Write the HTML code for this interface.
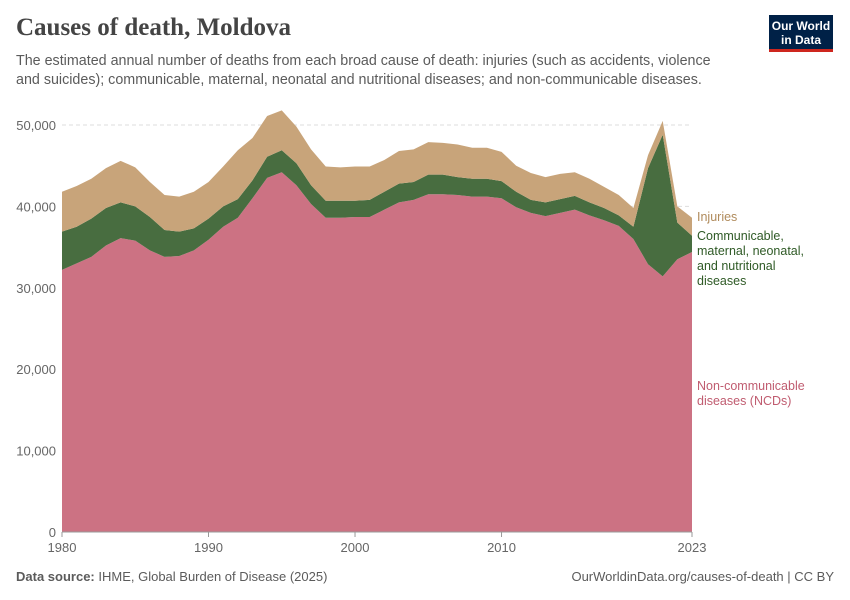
<!DOCTYPE html>
<html><head><meta charset="utf-8"><style>
body{margin:0;background:#fff;width:850px;height:600px;overflow:hidden;font-family:"Liberation Sans",sans-serif;position:relative}
.t{position:absolute}
</style></head><body>
<div class="t" style="left:16px;top:14px;font-family:'Liberation Serif',serif;font-size:25px;font-weight:bold;color:#444;">Causes of death, Moldova</div>
<div class="t" style="left:16px;top:52px;width:720px;font-size:14.3px;line-height:19px;color:#5b5b5b;">The estimated annual number of deaths from each broad cause of death: injuries (such as accidents, violence and suicides); communicable, maternal, neonatal and nutritional diseases; and non-communicable diseases.</div>
<div class="t" style="left:769px;top:15px;width:64px;height:37px;background:#002147;border-bottom:3px solid #ce261e;color:#fff;font-size:12px;font-weight:bold;line-height:14px;text-align:center;padding-top:4px;box-sizing:border-box;">Our World<br>in Data</div>
<svg id="chart" width="850" height="600" style="position:absolute;left:0;top:0"></svg>
<div class="t" style="left:16px;top:569px;font-size:13px;color:#5b5b5b;"><b>Data source:</b> IHME, Global Burden of Disease (2025)</div>
<div class="t" style="right:16px;top:569px;font-size:13px;color:#5b5b5b;">OurWorldinData.org/causes-of-death | CC BY</div>
<script>
const years=[];for(let y=1980;y<=2023;y++)years.push(y);
const ncd=[32200,33000,33800,35200,36100,35800,34600,33800,33900,34600,35900,37500,38600,41000,43500,44200,42600,40300,38600,38600,38700,38700,39600,40500,40800,41500,41500,41400,41200,41200,41000,39900,39200,38800,39200,39600,38900,38300,37600,36000,32900,31400,33500,34400];
const comm=[4700,4500,4700,4600,4400,4200,4100,3300,3000,2700,2600,2500,2300,2200,2600,2700,2700,2300,2100,2100,2000,2100,2200,2300,2200,2400,2400,2200,2200,2200,2100,1900,1600,1700,1700,1700,1600,1500,1300,1500,11800,17400,4500,2000];
const inj=[4900,5000,4900,4900,5100,4800,4300,4300,4300,4500,4500,4900,6000,5200,5000,4900,4500,4400,4200,4100,4200,4100,3900,4000,4000,4000,3900,4000,3800,3800,3600,3200,3300,3100,3100,2900,2900,2600,2500,2300,1600,1700,2000,2200];
const yTicks=[0,10000,20000,30000,40000,50000];
const xTicks=[1980,1990,2000,2010,2023];
const NS="http://www.w3.org/2000/svg",svg=document.getElementById('chart');
const X=y=>62+(y-1980)*(630/43), Y=v=>532-v*(407/50000);
function mk(t,a){const e=document.createElementNS(NS,t);for(const k in a)e.setAttribute(k,a[k]);svg.appendChild(e);return e;}
yTicks.forEach(v=>{
 if(v>0){const l=mk('line',{x1:62,x2:692,y1:Y(v),y2:Y(v),stroke:'#ddd','stroke-dasharray':'4,3'});
 
 }
 const t=mk('text',{x:56,y:Y(v)+5,'text-anchor':'end','font-size':13,fill:'#666'});t.textContent=v.toLocaleString('en-US');
 
 
});
const base=years.map(()=>0),l1=ncd.slice(),l2=ncd.map((v,i)=>v+comm[i]),l3=l2.map((v,i)=>v+inj[i]);
function area(lo,hi,col,name){let d='M'+years.map((y,i)=>X(y)+','+Y(hi[i])).join('L');
 for(let i=years.length-1;i>=0;i--)d+='L'+X(years[i])+','+Y(lo[i]);
 const p=mk('path',{d:d+'Z',fill:col});
 
 }
area(base,l1,'#cc7283','area-ncd');area(l1,l2,'#486d40','area-communicable');area(l2,l3,'#c8a47a','area-injuries');
const ax=mk('line',{x1:62,x2:692,y1:532,y2:532,stroke:'#999'});


xTicks.forEach(y=>{mk('line',{x1:X(y),x2:X(y),y1:532,y2:537,stroke:'#999'});
 const t=mk('text',{x:X(y),y:552,'text-anchor':'middle','font-size':13,fill:'#666'});t.textContent=y;
 
 });
function lab(lines,y0,col,name){const t=mk('text',{x:697,y:y0,'font-size':12.5,fill:col});
 lines.forEach((s,i)=>{const ts=document.createElementNS(NS,'tspan');ts.setAttribute('x',697);ts.setAttribute('dy',i?15:0);ts.textContent=s;t.appendChild(ts);});
 
 }
lab(['Injuries'],221,'#b08b5c','label-injuries');
lab(['Communicable,','maternal, neonatal,','and nutritional','diseases'],240,'#2f5a26','label-communicable');
lab(['Non-communicable','diseases (NCDs)'],390,'#c05c70','label-ncd');
</script>
</body></html>
